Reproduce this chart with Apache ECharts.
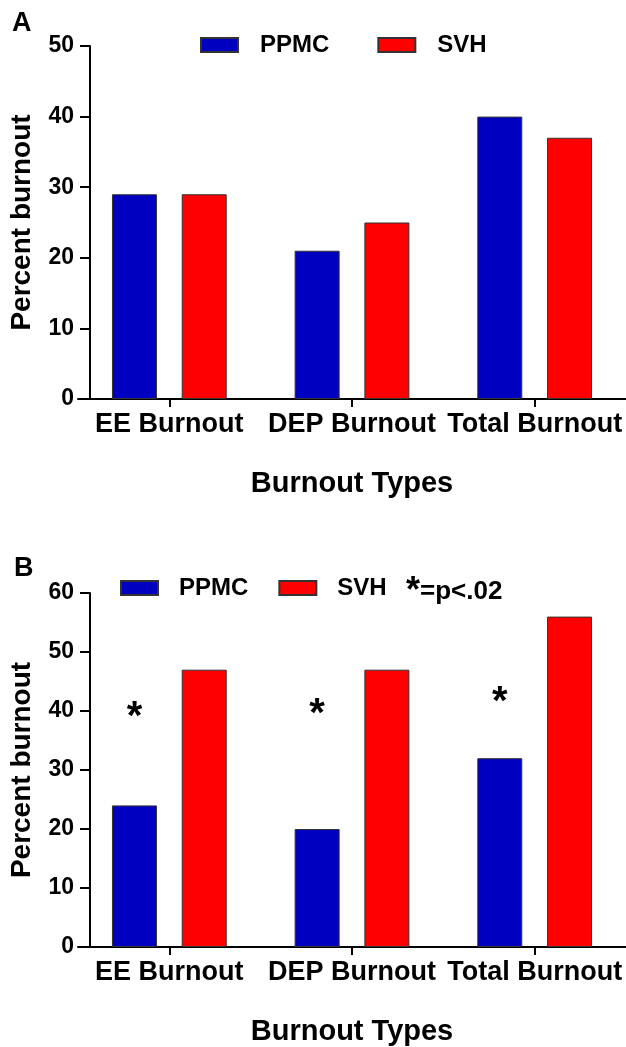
<!DOCTYPE html>
<html><head><meta charset="utf-8">
<script src="https://cdn.jsdelivr.net/npm/echarts@6/dist/echarts.min.js"></script>
<style>html,body{margin:0;padding:0;background:#fff}#c{width:626px;height:1047px}</style>
</head><body><div id="c"></div>
<script>
// ---- data ----
const categories = ['EE Burnout', 'DEP Burnout', 'Total Burnout'];
const seriesNames = ['PPMC', 'SVH'];
const ppmcA = [29, 21, 40];
const svhA = [29, 25, 37];
const ppmcB = [24, 20, 32];
const svhB = [47, 47, 56];
const starLevelsB = [40.5, 41, 43];   // heights (in % units) of the * markers in panel B
const yTicksA = [0, 10, 20, 30, 40, 50];
const yTicksB = [0, 10, 20, 30, 40, 50, 60];
const panelLabels = ['A', 'B'];
const xName = 'Burnout Types';
const yName = 'Percent burnout';
const sigNote = '=p<.02';

// ---- styles ----
const FF = "'Liberation Sans', Arial, sans-serif";
const BLUE = '#0000c0', RED = '#ff0000';
const txt = (size) => ({ color: '#000', fontFamily: FF, fontWeight: 'bold', fontSize: size });
const axisLine = { show: true, lineStyle: { color: '#000', width: 2 } };

function xAxis(gi) {
  return {
    type: 'category', gridIndex: gi, data: categories,
    axisLine: axisLine,
    axisTick: { show: true, alignWithLabel: true, length: 8, lineStyle: { color: '#000', width: 2 } },
    axisLabel: Object.assign(txt(27), { margin: 12, interval: 0 }),
    name: xName, nameLocation: 'middle', nameGap: 70,
    nameTextStyle: txt(29)
  };
}
function yAxis(gi, ticks) {
  return {
    type: 'value', gridIndex: gi, min: ticks[0], max: ticks[ticks.length - 1],
    interval: ticks[1] - ticks[0], offset: -12,
    axisLine: axisLine,
    axisTick: { show: true, length: 10, lineStyle: { color: '#000', width: 2 } },
    splitLine: { show: false },
    axisLabel: Object.assign(txt(23), { margin: 16 }),
    name: yName, nameLocation: 'middle', nameGap: 54,
    nameTextStyle: txt(28)
  };
}
function bar(name, data, gi, color, extra) {
  return Object.assign({
    type: 'bar', name: name, data: data, xAxisIndex: gi, yAxisIndex: gi,
    barWidth: 45, barGap: '55%',
    itemStyle: { color: color, borderColor: '#333', borderWidth: 1 }
  }, extra || {});
}

const chart = echarts.init(document.getElementById('c'), null, { renderer: 'canvas' });
chart.setOption({
  animation: false,
  backgroundColor: '#fff',
  title: [
    { text: panelLabels[0], left: 12, top: 10, textStyle: txt(27), padding: 0 },
    { text: panelLabels[1], left: 14, top: 555, textStyle: txt(27), padding: 0 },
    { text: '{s|*}{t|' + sigNote + '}', left: 406, top: 574, padding: 0,
      textStyle: { rich: { s: txt(36), t: txt(26) } } }
  ],
  legend: [
    { left: 200, top: 33, itemWidth: 37, itemHeight: 14, itemGap: 48, padding: 0, icon: 'rect',
      data: seriesNames, textStyle: Object.assign(txt(24), { padding: [0, 0, 0, 17] }) },
    { left: 120, top: 576, itemWidth: 37, itemHeight: 14, itemGap: 30, padding: 0, icon: 'rect',
      data: seriesNames, textStyle: Object.assign(txt(24), { padding: [0, 0, 0, 16] }) }
  ],
  grid: [
    { left: 75, top: 46, width: 553, height: 353 },
    { left: 75, top: 593, width: 553, height: 354 }
  ],
  xAxis: [xAxis(0), xAxis(1)],
  yAxis: [yAxis(0, yTicksA), yAxis(1, yTicksB)],
  series: [
    bar(seriesNames[0], ppmcA, 0, BLUE),
    bar(seriesNames[1], svhA, 0, RED),
    bar(seriesNames[0], ppmcB, 1, BLUE, {
      markPoint: {
        symbol: 'circle', symbolSize: 1, itemStyle: { color: 'transparent' },
        data: categories.map((c, i) => ({ coord: [c, starLevelsB[i]] })),
        label: Object.assign(txt(40), { show: true, formatter: '*', position: 'inside', offset: [0, 10] })
      }
    }),
    bar(seriesNames[1], svhB, 1, RED)
  ]
});
</script>
</body></html>
